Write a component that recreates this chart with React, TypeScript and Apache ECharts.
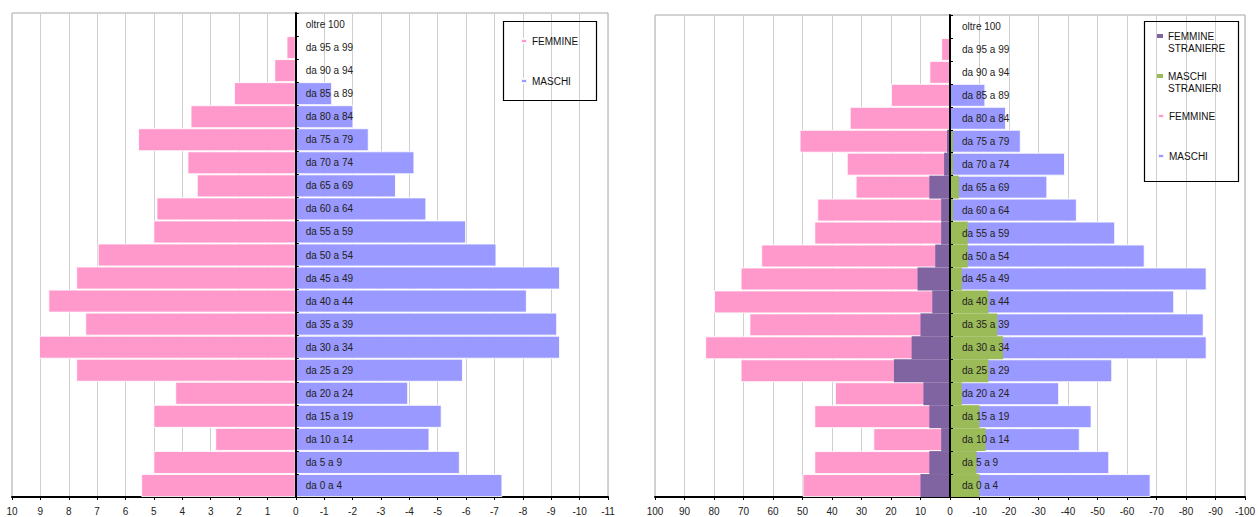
import React, { useEffect, useRef } from "react";
import * as echarts from "echarts";

// Age classes, bottom to top
const ageGroups = [
  "da 0 a 4", "da 5 a 9", "da 10 a 14", "da 15 a 19", "da 20 a 24",
  "da 25 a 29", "da 30 a 34", "da 35 a 39", "da 40 a 44", "da 45 a 49",
  "da 50 a 54", "da 55 a 59", "da 60 a 64", "da 65 a 69", "da 70 a 74",
  "da 75 a 79", "da 80 a 84", "da 85 a 89", "da 90 a 94", "da 95 a 99",
  "oltre 100",
];

// Percentage pyramid (females positive, males negative)
const femminePct = [
  5.45, 5.02, 2.84, 5.02, 4.25, 7.74, 9.05, 7.42, 8.72, 7.74,
  6.98, 5.02, 4.91, 3.49, 3.82, 5.56, 3.71, 2.18, 0.76, 0.33, 0,
];
const maschiPct = [
  -7.28, -5.78, -4.71, -5.14, -3.96, -5.89, -9.31, -9.21, -8.14, -9.31,
  -7.07, -6.0, -4.6, -3.53, -4.18, -2.57, -2.03, -1.28, 0, 0, 0,
];

// Resident counts (females positive, males negative)
const femmine = [50, 46, 26, 46, 39, 71, 83, 68, 80, 71, 64, 46, 45, 32, 35, 51, 34, 20, 7, 3, 0];
const femmineStraniere = [10, 7, 3, 7, 9, 19, 13, 10, 6, 11, 5, 3, 3, 7, 2, 1, 0, 0, 0, 0, 0];
const maschi = [-68, -54, -44, -48, -37, -55, -87, -86, -76, -87, -66, -56, -43, -33, -39, -24, -19, -12, 0, 0, 0];
const maschiStranieri = [-10, -9, -12, -10, -4, -13, -18, -16, -13, -4, -6, -6, -1, -3, -1, -1, 0, 0, 0, 0, 0];

// Value axis ranges
const pctRange = { min: -11, max: 10, interval: 1 };
const countRange = { min: -100, max: 100, interval: 10 };

const FONT = '"Liberation Sans", Arial, sans-serif';
const PINK = "#FF99CC";
const BLUE = "#9999FF";
const PURPLE = "#8064A2";
const GREEN = "#9BBB59";

type Range = { min: number; max: number; interval: number };

// Category labels sit just right of the zero line; the offset is measured from the grid's left edge
const categoryAxis = (gridIndex: number, r: Range, gridWidth: number) => ({
  type: "category",
  gridIndex,
  data: ageGroups,
  z: 10,
  axisLine: { show: true, onZero: true, lineStyle: { color: "#000", width: 2 } },
  axisTick: { show: true, inside: true, length: 3, lineStyle: { color: "#000", width: 1 } },
  axisLabel: {
    inside: true,
    margin: (r.max / (r.max - r.min)) * gridWidth + 10,
    color: "#222",
    fontSize: 10,
    fontFamily: FONT,
  },
  splitLine: { show: false },
});

const valueAxis = (gridIndex: number, r: Range) => ({
  type: "value",
  gridIndex,
  inverse: true,
  min: r.min,
  max: r.max,
  interval: r.interval,
  axisLine: { show: true, onZero: false, lineStyle: { color: "#000", width: 2 } },
  axisTick: { show: true, length: 3, lineStyle: { color: "#000", width: 1 } },
  axisLabel: { color: "#222", fontSize: 10, fontFamily: FONT, margin: 9 },
  splitLine: { show: true, lineStyle: { color: "#cfcfcf", width: 1 } },
});

const barStyle = (color: string) => ({ color, borderColor: "rgba(255,255,255,0.85)", borderWidth: 1 });

const legendItem = (name: string, left: number, top: number, twoLines = false) => ({
  data: [name],
  left,
  top,
  padding: 0,
  icon: "rect",
  itemWidth: 6,
  itemHeight: 4,
  selectedMode: false,
  // two-word names wrap; the empty first line keeps the marker level with the first word
  formatter: (n: string) => (twoLines ? "\n" + n.replace(" ", "\n") : n),
  textStyle: {
    color: "#111",
    fontSize: 10,
    fontFamily: FONT,
    lineHeight: 12,
  },
});

const GRID_L = { left: 12, top: 13, width: 596, height: 484 };
const GRID_R = { left: 655, top: 15, width: 594, height: 482 };

export default function App() {
  const ref = useRef<HTMLDivElement>(null);

  useEffect(() => {
    if (!ref.current) return;
    const chart = echarts.init(ref.current, undefined, { renderer: "svg" });
    chart.setOption({
      animation: false,
      backgroundColor: "#fff",
      grid: [
        { ...GRID_L, show: true, borderColor: "#a6a6a6", borderWidth: 1, backgroundColor: "transparent" },
        { ...GRID_R, show: true, borderColor: "#a6a6a6", borderWidth: 1, backgroundColor: "transparent" },
      ],
      xAxis: [valueAxis(0, pctRange), valueAxis(1, countRange)],
      yAxis: [categoryAxis(0, pctRange, GRID_L.width), categoryAxis(1, countRange, GRID_R.width)],
      legend: [
        legendItem("FEMMINE", 520, 35),
        legendItem("MASCHI", 520, 75),
        legendItem("FEMMINE STRANIERE", 1157, 18, true),
        legendItem("MASCHI STRANIERI", 1157, 58, true),
        legendItem("FEMMINE", 1157, 110),
        legendItem("MASCHI", 1157, 150),
      ],
      graphic: [
        { type: "rect", shape: { x: 503.5, y: 21.5, width: 93, height: 79 }, style: { fill: "none", stroke: "#000", lineWidth: 1.2 }, z: 100 },
        { type: "rect", shape: { x: 1144.5, y: 21.5, width: 94, height: 160 }, style: { fill: "none", stroke: "#000", lineWidth: 1.2 }, z: 100 },
      ],
      series: [
        {
          type: "bar", name: "FEMMINE", xAxisIndex: 0, yAxisIndex: 0, stack: "pct",
          data: femminePct, barCategoryGap: "0%", itemStyle: barStyle(PINK),
        },
        {
          type: "bar", name: "MASCHI", xAxisIndex: 0, yAxisIndex: 0, stack: "pct",
          data: maschiPct, barCategoryGap: "0%", itemStyle: barStyle(BLUE),
        },
        {
          type: "bar", name: "FEMMINE", xAxisIndex: 1, yAxisIndex: 1,
          data: femmine, barGap: "-100%", barCategoryGap: "0%", itemStyle: barStyle(PINK), z: 2,
        },
        {
          type: "bar", name: "MASCHI", xAxisIndex: 1, yAxisIndex: 1,
          data: maschi, barGap: "-100%", barCategoryGap: "0%", itemStyle: barStyle(BLUE), z: 2,
        },
        {
          type: "bar", name: "FEMMINE STRANIERE", xAxisIndex: 1, yAxisIndex: 1,
          data: femmineStraniere, barGap: "-100%", barCategoryGap: "0%",
          itemStyle: { color: PURPLE, borderWidth: 0 }, z: 3,
        },
        {
          type: "bar", name: "MASCHI STRANIERI", xAxisIndex: 1, yAxisIndex: 1,
          data: maschiStranieri, barGap: "-100%", barCategoryGap: "0%",
          itemStyle: { color: GREEN, borderWidth: 0 }, z: 3,
        },
      ],
    });
    return () => chart.dispose();
  }, []);

  return (
    <div
      ref={ref}
      style={{ position: "fixed", left: 0, top: 0, width: 1258, height: 517, background: "#fff" }}
    />
  );
}
